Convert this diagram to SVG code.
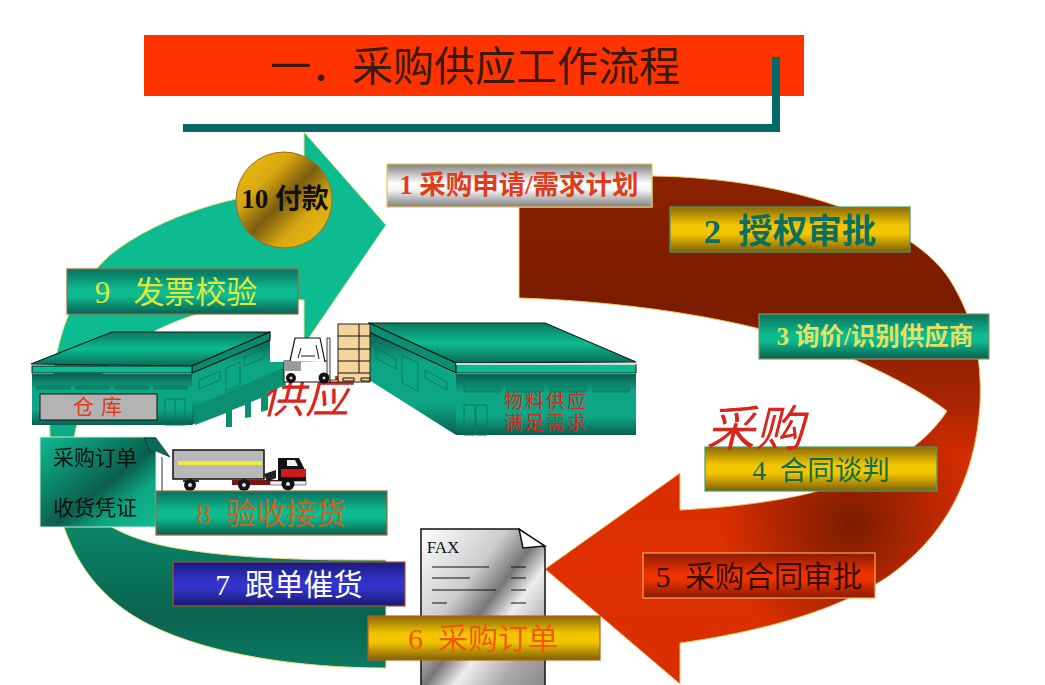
<svg xmlns="http://www.w3.org/2000/svg" width="1045" height="685" viewBox="0 0 1045 685">
<style>
text{font-family:"Liberation Serif","Noto Sans CJK SC",serif;text-anchor:middle}
.bx{stroke-width:1.2}
.tb{stroke:#9a6a3a;fill:url(#teal)}
.gb{stroke:#3f9f70;fill:url(#gold)}
.ln{stroke:#111;stroke-width:1;fill:none}
.ol{stroke:#0c1c18;stroke-width:1.2}
.wl{stroke:#0a7a60;stroke-width:1;fill:none}
.bar{fill:#0a8f70;stroke:#0a7a60}
.tire{fill:#111}
.hub{fill:#ddd;stroke:#111}
</style>
<defs>
<linearGradient id="teal" x1="0" y1="0" x2="0" y2="1"><stop offset="0" stop-color="#0a6f5c"/><stop offset=".45" stop-color="#0dbb90"/><stop offset=".6" stop-color="#0dbb90"/><stop offset="1" stop-color="#0a6050"/></linearGradient>
<linearGradient id="gold" x1="0" y1="0" x2="0" y2="1"><stop offset="0" stop-color="#8a6a08"/><stop offset=".4" stop-color="#f2c500"/><stop offset=".6" stop-color="#f2c500"/><stop offset="1" stop-color="#806006"/></linearGradient>
<linearGradient id="silver" x1="0" y1="0" x2="0" y2="1"><stop offset="0" stop-color="#808080"/><stop offset=".45" stop-color="#ffffff"/><stop offset=".6" stop-color="#f4f4f4"/><stop offset="1" stop-color="#808080"/></linearGradient>
<linearGradient id="redb" x1="0" y1="0" x2="0" y2="1"><stop offset="0" stop-color="#8a1a00"/><stop offset=".45" stop-color="#ee3300"/><stop offset=".6" stop-color="#ee3300"/><stop offset="1" stop-color="#8a1a00"/></linearGradient>
<linearGradient id="blue" x1="0" y1="0" x2="0" y2="1"><stop offset="0" stop-color="#1a1a80"/><stop offset=".45" stop-color="#3333cc"/><stop offset=".6" stop-color="#3333cc"/><stop offset="1" stop-color="#1a1a70"/></linearGradient>
<linearGradient id="coin" x1="0" y1="0" x2="1" y2="1"><stop offset="0" stop-color="#f0c010"/><stop offset=".3" stop-color="#d8a810"/><stop offset=".5" stop-color="#7a5c10"/><stop offset=".7" stop-color="#d8a810"/><stop offset="1" stop-color="#f0c010"/></linearGradient>
<linearGradient id="fax" x1="0" y1="0" x2="1" y2="1"><stop offset="0" stop-color="#fff"/><stop offset=".35" stop-color="#ccc"/><stop offset=".5" stop-color="#777"/><stop offset=".62" stop-color="#eee"/><stop offset=".8" stop-color="#aaa"/><stop offset="1" stop-color="#888"/></linearGradient>
<linearGradient id="arrowred" gradientUnits="userSpaceOnUse" x1="0" y1="180" x2="0" y2="680"><stop offset="0" stop-color="#8a2200"/><stop offset=".25" stop-color="#7a1c00"/><stop offset=".45" stop-color="#a82600"/><stop offset=".55" stop-color="#d42c00"/><stop offset=".75" stop-color="#e03000"/><stop offset="1" stop-color="#d82e00"/></linearGradient>
<radialGradient id="reddark" gradientUnits="userSpaceOnUse" cx="850" cy="525" r="130"><stop offset="0" stop-color="#6a1800" stop-opacity=".85"/><stop offset="1" stop-color="#6a1800" stop-opacity="0"/></radialGradient>
<linearGradient id="arrowgreen" gradientUnits="userSpaceOnUse" x1="0" y1="300" x2="0" y2="670"><stop offset="0" stop-color="#0dbb90"/><stop offset=".25" stop-color="#0dbb90"/><stop offset=".6" stop-color="#0b8868"/><stop offset=".85" stop-color="#0a6350"/><stop offset="1" stop-color="#0b7a60"/></linearGradient>
<linearGradient id="doc" x1="0" y1="0" x2="1" y2="1"><stop offset="0" stop-color="#0dbb90"/><stop offset=".55" stop-color="#0b5f4c"/><stop offset=".75" stop-color="#0da882"/><stop offset="1" stop-color="#0dbb90"/></linearGradient>
<linearGradient id="roof" x1="0" y1="0" x2="0" y2="1"><stop offset="0" stop-color="#0a7a62"/><stop offset=".5" stop-color="#0dbb90"/><stop offset="1" stop-color="#0a6a55"/></linearGradient>
<linearGradient id="wall" x1="0" y1="0" x2="0" y2="1"><stop offset="0" stop-color="#0a5f50"/><stop offset=".3" stop-color="#0da684"/><stop offset=".7" stop-color="#0da684"/><stop offset="1" stop-color="#0a5f50"/></linearGradient>
<path id="redshape" d="M519 207V298C640 302 770 322 860 362C895 378 925 394 947 411C925 445 885 470 840 485C790 501 735 507 680 510V473L545 569L680 684V643C760 632 840 610 890 575C945 535 975 480 980 405C982 360 975 320 950 280C915 225 800 178 652 176V207Z"/>
</defs>

<g id="title">
<rect x="144" y="35" width="660" height="61" fill="#ff3300"/>
<text x="475" y="81" font-size="41" fill="#3a1a10">一．采购供应工作流程</text>
<path d="M183 128H776V57" fill="none" stroke="#056a66" stroke-width="8"/>
</g>

<g id="connectors">
<use id="red-arrow" href="#redshape" fill="url(#arrowred)" stroke="#f3c96a" stroke-width="1"/>
<use href="#redshape" fill="url(#reddark)"/>
<path id="green-arrow" d="M304 132L386 225L304 345V300C240 298 170 315 125 350C85 385 70 430 72 470C75 510 110 535 170 547C240 560 320 560 386 560V668C300 668 210 655 150 625C90 595 52 540 50 440C48 370 60 300 110 255C160 215 240 192 304 190Z" fill="url(#arrowgreen)" stroke="#e8e48a" stroke-width="1"/>
</g>

<text id="label-gongying" x="305" y="413" font-size="44" font-style="italic" fill="#d8261c">供应</text>

<g id="warehouse-left">
<path d="M192 373L270 337V362H286V372L192 425Z" fill="url(#wall)"/>
<path d="M193 407L283 368L286 385L268 392V410L261 412V398L251 402V417L245 418V405L232 410V427L226 427V413L195 425Z" fill="#0a8f70"/>
<path d="M31 364L112 332H270L192 366Z" fill="url(#roof)" class="ol"/>
<path d="M192 366L270 332V340L192 373Z" fill="#0a8a6c" class="ol"/>
<rect x="32" y="366" width="160" height="7" fill="#0dbb90" stroke="#0c1c18"/>
<rect x="32" y="374" width="160" height="51" fill="url(#wall)"/>
<path class="bar" d="M37 386h33v3h-33zM76 386h33v3h-33zM115 386h33v3h-33zM154 386h33v3h-33z"/>
<path class="wl" d="M199 380l21-9v9l-21 9zM226 368v23l14-6v-23zM244 357l20-8v9l-20 8z"/>
<rect x="40" y="394" width="117" height="26" fill="#b3b3b3" stroke="#111" stroke-width="1"/>
<text x="98" y="414" font-size="21" fill="#e03c20" letter-spacing="1" xml:space="preserve">仓 库</text>
<path class="wl" d="M165 399h20v26h-20zM175 399v26"/>
</g>

<g id="warehouse-right">
<path d="M369 332L456 374V435L369 380Z" fill="url(#wall)"/>
<path d="M369 323H545L636 362L456 363Z" fill="url(#roof)" class="ol"/>
<path d="M369 323L456 363V373L369 332Z" fill="#0a8f70" class="ol"/>
<rect x="456" y="364" width="180" height="9" fill="#0dbb90" stroke="#0c1c18"/>
<path d="M456 364H636" stroke="#fff" stroke-width="1.5"/>
<rect x="456" y="374" width="180" height="61" fill="url(#wall)"/>
<path class="bar" d="M464 386h36v6h-36zM507 386h36v6h-36zM550 386h36v6h-36zM593 386h36v6h-36z"/>
<path class="wl" d="M376 348l20 11v10l-20-11zM402 355v28l16 8v-28zM425 370l22 12v8l-22-12z"/>
<path class="wl" d="M464 405h11v30h-11zM476 405h11v30h-11z"/>
<text font-size="19" fill="#d8261c" letter-spacing="2"><tspan x="546" y="408">物料供应</tspan><tspan x="546" y="430">满足需求</tspan></text>
</g>

<g id="forklift">
<rect x="338" y="324" width="32" height="58" fill="#f5d49b" stroke="#222"/>
<path class="ln" d="M338 336h32M338 349h32M338 361h32M338 373h32M359 324v49"/>
<path class="ln" d="M343 378h11v3h-11zM361 378h9v3h-9z"/>
<path d="M284 361h44v21h-44z" fill="#fff" stroke="#111"/>
<path d="M284 361h17v10h-17z" fill="#9a9a9a"/>
<path d="M290 361L295 338H320L325 362" fill="#fff" stroke="#111" stroke-width="1.2"/>
<path class="ln" d="M298 358l3-10M301 356h14M316 345l3 14"/>
<path d="M327 338h3v44h-3zM330 380h8v2h-8z" fill="#eee" stroke="#111" stroke-width=".8"/>
<circle class="tire" cx="291" cy="378" r="5"/><circle class="hub" cx="291" cy="378" r="2"/>
<circle class="tire" cx="324" cy="378" r="5.5"/><circle class="hub" cx="324" cy="378" r="2"/>
</g>

<g id="truck">
<rect x="173" y="450" width="91" height="29" fill="#b8b8b8" stroke="#111" stroke-width="1.5"/>
<rect x="178" y="461" width="84" height="4" fill="#f2e83a"/>
<rect x="232" y="480" width="48" height="5" fill="#7a1510"/>
<path d="M264 474l12-4v8l-9 4z" fill="#222"/>
<path d="M278 480V458H299L306 472V484H278Z" fill="#111"/>
<path d="M281 469H306V477H281Z" fill="#d01818"/>
<path d="M287 460h8l3 6h-11z" fill="#eee"/>
<rect x="270" y="481" width="36" height="4" fill="#eee" stroke="#111" stroke-width=".5"/>
<rect x="183" y="480" width="16" height="2" fill="#333"/>
<circle class="tire" cx="190" cy="485" r="6"/><circle class="hub" cx="190" cy="485" r="2.5"/>
<circle class="tire" cx="244" cy="485" r="6"/><circle class="hub" cx="244" cy="485" r="2.5"/>
<circle class="tire" cx="288" cy="484" r="6.5"/><circle class="hub" cx="288" cy="484" r="2.5"/>
</g>

<g id="document">
<path d="M40 437H156V527H40Z" fill="url(#doc)" stroke="#cfe8d8" stroke-width="1"/>
<path d="M144 438H156L170 457L156 451L150 452Z" fill="#0b6a5c" stroke="#0c1c18" stroke-width=".6"/>
<path d="M162 457V491" stroke="#333"/>
<text font-size="21" fill="#111"><tspan x="95" y="465">采购订单</tspan><tspan x="95" y="515">收货凭证</tspan></text>
</g>

<g id="fax">
<path d="M421 529H519L545 548V690H421Z" fill="url(#fax)" stroke="#111" stroke-width="1.5"/>
<path d="M519 529L523 548L545 546Z" fill="#fff" stroke="#111" stroke-width="1.5"/>
<text x="443" y="553" font-size="17" fill="#111">FAX</text>
<path class="ln" d="M432 567h57M432 578h38M432 590h64M432 603h15M511 567h15M511 578h15M511 590h15M511 603h15"/>
</g>

<g id="n1"><rect class="bx" x="387" y="164" width="265" height="43" fill="url(#silver)" stroke="#e8c060"/><text x="519" y="194" font-size="26.5" font-weight="bold" fill="#e03c1c">1 采购申请/需求计划</text></g>
<g id="n2"><rect class="bx gb" x="670" y="207" width="240" height="45"/><text x="790" y="243" font-size="34.5" font-weight="bold" fill="#0b6e62" xml:space="preserve">2  授权审批</text></g>
<g id="n3"><rect class="bx" x="759" y="314" width="230" height="45" fill="url(#teal)" stroke="#8a9a60"/><text x="875" y="345" font-size="24.5" font-weight="bold" fill="#e6e060">3 询价/识别供应商</text></g>
<g id="n4"><rect class="bx gb" x="705" y="447" width="232" height="44"/><text x="821" y="480" font-size="27.5" fill="#0b6e52" xml:space="preserve">4  合同谈判</text></g>
<g id="n5"><rect class="bx" x="643" y="553" width="232" height="45" fill="url(#redb)" stroke="#f0b060"/><text x="759" y="587" font-size="29.5" fill="#3a0c08" xml:space="preserve">5  采购合同审批</text></g>
<g id="n6"><rect class="bx" x="368" y="616" width="232" height="44" fill="url(#gold)" stroke="#c05a20"/><text x="483" y="649" font-size="30" fill="#ee5a10" xml:space="preserve">6  采购订单</text></g>
<g id="n7"><rect class="bx" x="173" y="562" width="232" height="44" fill="url(#blue)" stroke="#a05a30"/><text x="289" y="595" font-size="29.5" fill="#fff" xml:space="preserve">7  跟单催货</text></g>
<g id="n8"><rect class="bx tb" x="156" y="491" width="231" height="44"/><text x="271" y="524" font-size="30" fill="#c8641c" xml:space="preserve">8  验收接货</text></g>
<g id="n9"><rect class="bx tb" x="67" y="269" width="231" height="45"/><text x="176" y="303" font-size="31" fill="#dfe83a" xml:space="preserve">9   发票校验</text></g>
<g id="n10"><circle cx="284" cy="200" r="48" fill="url(#coin)" stroke="#a06a20"/><text x="285" y="208" font-size="27" font-weight="bold" fill="#111">10 付款</text></g>

<text id="label-caigou" x="755" y="446" font-size="49" font-style="italic" fill="#d8261c">采购</text>
</svg>
